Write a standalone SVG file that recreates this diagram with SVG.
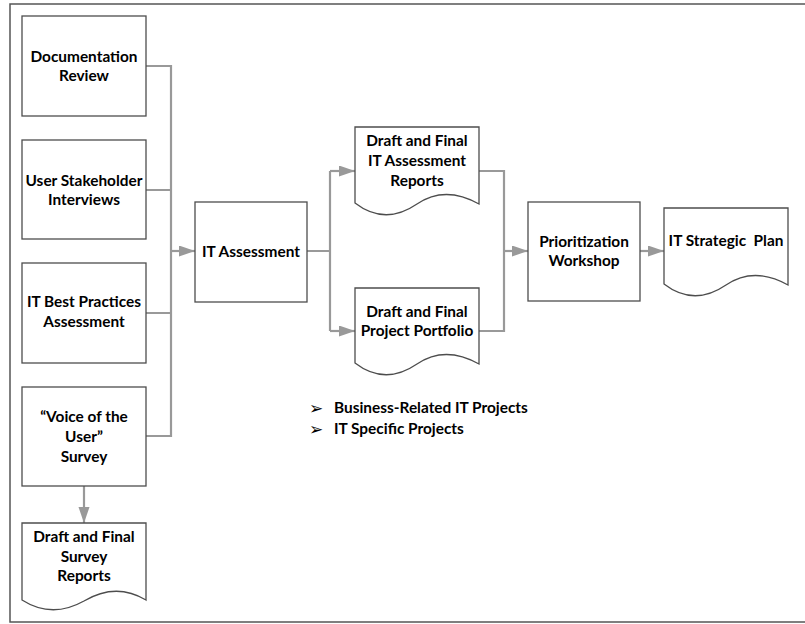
<svg xmlns="http://www.w3.org/2000/svg" width="805" height="624" viewBox="0 0 805 624">
  <style>
    .box { fill: #ffffff; stroke: #4d4d4d; stroke-width: 1.3; }
    .conn { fill: none; stroke: #999999; stroke-width: 2.2; }
    .arr { fill: none; stroke: #999999; stroke-width: 2.2; marker-end: url(#head); }
    text { font-family: Lato, "Open Sans", "Liberation Sans", sans-serif; font-weight: bold; font-size: 15.4px; fill: #000000; text-anchor: middle; }
    .bl { text-anchor: start; }
    .sym { font-family: "DejaVu Sans", sans-serif; font-weight: normal; font-size: 17px; text-anchor: start; }
  </style>
  <defs>
    <marker id="head" markerUnits="userSpaceOnUse" markerWidth="17" markerHeight="12" refX="16" refY="5.5" orient="auto">
      <path d="M0,0 L16,5.5 L0,11 z" fill="#999999"/>
    </marker>
  </defs>

  <!-- outer frame -->
  <rect x="10" y="4" width="800" height="618" fill="none" stroke="#555555" stroke-width="1.5"/>

  <g id="connectors">
    <!-- inputs merge into IT Assessment -->
    <path class="conn" d="M146,66 H171 V436 H146 M146,190 H171 M146,313 H171"/>
    <path class="arr" d="M171,251 H195"/>
    <!-- survey to survey reports -->
    <path class="arr" d="M84,486 V523"/>
    <!-- IT Assessment splits into two documents -->
    <path class="conn" d="M307,251 H330 M330,171 V331"/>
    <path class="arr" d="M330,171 H355"/>
    <path class="arr" d="M330,331 H355"/>
    <!-- documents merge into workshop -->
    <path class="conn" d="M479,171 H504 V331 H479"/>
    <path class="arr" d="M504,251 H528"/>
    <path class="arr" d="M640,251 H664"/>
  </g>

  <g id="doc-review">
    <rect class="box" x="22" y="16" width="124" height="100"/>
    <text x="84" y="62">Documentation</text>
    <text x="84" y="81">Review</text>
  </g>

  <g id="stakeholder-interviews">
    <rect class="box" x="22" y="140" width="124" height="99"/>
    <text x="84" y="186">User Stakeholder</text>
    <text x="84" y="205">Interviews</text>
  </g>

  <g id="best-practices">
    <rect class="box" x="22" y="263" width="124" height="100"/>
    <text x="84" y="307">IT Best Practices</text>
    <text x="84" y="327">Assessment</text>
  </g>

  <g id="voice-survey">
    <rect class="box" x="22" y="387" width="124" height="99"/>
    <text x="84" y="422">“Voice of the</text>
    <text x="84" y="442">User”</text>
    <text x="84" y="462">Survey</text>
  </g>

  <g id="survey-reports">
    <path class="box" d="M22,523 H146 V600 Q116,582 84,601 Q52,619 22,600 Z"/>
    <text x="84" y="542">Draft and Final</text>
    <text x="84" y="562">Survey</text>
    <text x="84" y="581">Reports</text>
  </g>

  <g id="it-assessment">
    <rect class="box" x="195" y="202" width="112" height="100"/>
    <text x="251" y="257">IT Assessment</text>
  </g>

  <g id="assessment-reports">
    <path class="box" d="M355,127 H479 V204 Q445,185 417,204 Q385,226 355,203 Z"/>
    <text x="417" y="146">Draft and Final</text>
    <text x="417" y="166">IT Assessment</text>
    <text x="417" y="186">Reports</text>
  </g>

  <g id="project-portfolio">
    <path class="box" d="M355,288 H479 V364 Q445,345 417,364 Q385,386 355,363 Z"/>
    <text x="417" y="317">Draft and Final</text>
    <text x="417" y="336">Project Portfolio</text>
  </g>

  <g id="workshop">
    <rect class="box" x="528" y="202" width="112" height="99"/>
    <text x="584" y="247">Prioritization</text>
    <text x="584" y="266">Workshop</text>
  </g>

  <g id="strategic-plan">
    <path class="box" d="M664,208 H788 V285 Q754,266 726,285 Q694,307 664,284 Z"/>
    <text x="726" y="246" xml:space="preserve">IT Strategic  Plan</text>
  </g>

  <g id="portfolio-notes">
    <text class="sym" x="309" y="414">➢</text>
    <text class="bl" x="334" y="413">Business-Related IT Projects</text>
    <text class="sym" x="309" y="435">➢</text>
    <text class="bl" x="334" y="434">IT Specific Projects</text>
  </g>
</svg>
